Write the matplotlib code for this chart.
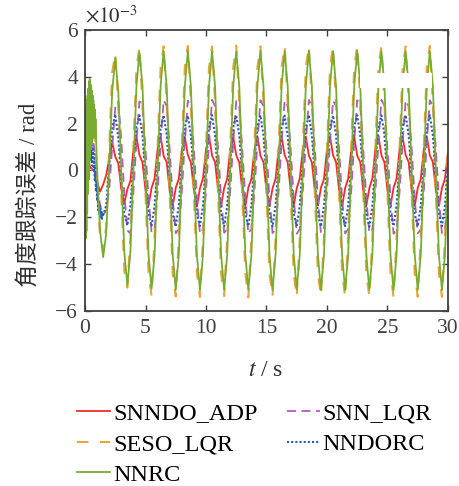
import numpy as np
import matplotlib
matplotlib.use('Agg')
import matplotlib.pyplot as plt
from matplotlib.patches import Rectangle

plt.rcParams['font.family'] = ['Liberation Serif', 'Noto Sans CJK SC']
plt.rcParams['mathtext.fontset'] = 'stix'

# sample grid (s), errors in units of 1e-3 rad
t = np.arange(0, 30.001, 0.25)

snndo_adp = [
    0.00, 0.30, 0.10, 0.00, -0.50, -0.90, -0.60, -0.20,
    0.50, 1.20, 0.60, 0.30, -0.80, -1.40, -0.80, -0.45,
    0.90, 1.45, 0.65, 0.35, -0.85, -1.50, -0.75, -0.35,
    0.92, 1.46, 0.62, 0.36, -0.88, -1.52, -0.74, -0.36,
    0.88, 1.44, 0.66, 0.34, -0.84, -1.55, -0.76, -0.34,
    0.90, 1.47, 0.64, 0.35, -0.86, -1.50, -0.75, -0.35,
    0.91, 1.45, 0.65, 0.33, -0.85, -1.53, -0.73, -0.36,
    0.89, 1.46, 0.63, 0.36, -0.87, -1.51, -0.76, -0.35,
    0.90, 1.44, 0.66, 0.35, -0.84, -1.52, -0.75, -0.34,
    0.92, 1.45, 0.64, 0.34, -0.86, -1.50, -0.74, -0.36,
    0.90, 1.46, 0.65, 0.36, -0.85, -1.54, -0.75, -0.35,
    0.89, 1.45, 0.63, 0.35, -0.87, -1.51, -0.76, -0.34,
    0.91, 1.47, 0.65, 0.34, -0.85, -1.50, -0.74, -0.35,
    0.90, 1.44, 0.66, 0.35, -0.86, -1.52, -0.75, -0.36,
    0.90, 1.46, 0.64, 0.36, -0.84, -1.51, -0.75, -0.35,
    0.80,
]

snn_lqr = [
    0.00, 1.50, 1.80, 1.00, -0.50, -1.50, -1.90, -1.70,
    -0.80, 1.00, 2.70, 2.95, 1.30, -1.00, -2.55, -2.70,
    -0.90, 1.20, 2.95, 2.75, 0.90, -1.20, -2.65, -2.50,
    -0.92, 1.18, 3.00, 2.76, 0.88, -1.22, -2.68, -2.52,
    -0.90, 1.20, 2.98, 2.74, 0.90, -1.20, -2.70, -2.50,
    -0.88, 1.22, 3.02, 2.75, 0.92, -1.18, -2.66, -2.51,
    -0.90, 1.20, 2.97, 2.76, 0.90, -1.20, -2.69, -2.50,
    -0.91, 1.19, 3.00, 2.74, 0.89, -1.21, -2.67, -2.52,
    -0.90, 1.21, 2.99, 2.75, 0.90, -1.19, -2.70, -2.50,
    -0.89, 1.20, 3.01, 2.76, 0.91, -1.20, -2.68, -2.51,
    -0.90, 1.20, 2.98, 2.75, 0.90, -1.21, -2.69, -2.50,
    -0.91, 1.21, 3.00, 2.74, 0.89, -1.20, -2.67, -2.52,
    -0.90, 1.19, 3.02, 2.76, 0.90, -1.19, -2.70, -2.50,
    -0.89, 1.20, 2.99, 2.75, 0.91, -1.20, -2.68, -2.51,
    -0.90, 1.21, 3.00, 2.75, 0.90, -1.21, -2.69, -2.50,
    -0.90,
]

seso_lqr = [
    0.00, 2.20, 3.30, 1.80, -0.60, -2.90, -3.40, -2.40,
    1.00, 4.20, 5.00, 2.80, -1.00, -4.30, -5.00, -2.90,
    1.00, 4.40, 5.28, 2.90, -1.00, -4.40, -5.35, -2.90,
    1.02, 4.40, 5.30, 2.92, -1.02, -4.42, -5.38, -2.90,
    1.00, 4.42, 5.32, 2.90, -1.00, -4.40, -5.40, -2.92,
    0.98, 4.40, 5.30, 2.91, -1.01, -4.41, -5.36, -2.90,
    1.00, 4.41, 5.33, 2.90, -1.00, -4.40, -5.42, -2.91,
    1.01, 4.40, 5.30, 2.92, -0.99, -4.42, -5.38, -2.90,
    1.00, 4.42, 5.31, 2.90, -1.00, -4.40, -5.40, -2.90,
    0.99, 4.40, 5.32, 2.91, -1.02, -4.41, -5.37, -2.92,
    1.00, 4.41, 5.30, 2.90, -1.00, -4.40, -5.41, -2.90,
    1.02, 4.40, 5.33, 2.92, -1.01, -4.42, -5.38, -2.91,
    1.00, 4.42, 5.31, 2.90, -1.00, -4.40, -5.40, -2.90,
    0.98, 4.40, 5.30, 2.91, -0.99, -4.41, -5.39, -2.92,
    1.00, 4.41, 5.32, 2.90, -1.00, -4.40, -5.40, -2.90,
    1.00,
]

nndorc = [
    0.00, 1.50, 1.00, 0.50, -0.90, -1.70, -2.00, -1.50,
    0.20, 1.80, 2.40, 1.40, -0.40, -1.90, -2.35, -1.50,
    0.30, 1.85, 2.35, 1.50, -0.30, -1.85, -2.38, -1.50,
    0.31, 1.84, 2.36, 1.52, -0.30, -1.86, -2.40, -1.49,
    0.30, 1.86, 2.34, 1.50, -0.31, -1.85, -2.37, -1.50,
    0.29, 1.85, 2.37, 1.49, -0.30, -1.84, -2.39, -1.51,
    0.30, 1.84, 2.35, 1.51, -0.29, -1.86, -2.38, -1.50,
    0.31, 1.86, 2.36, 1.50, -0.30, -1.85, -2.40, -1.49,
    0.30, 1.85, 2.34, 1.50, -0.31, -1.84, -2.37, -1.50,
    0.30, 1.84, 2.37, 1.52, -0.30, -1.86, -2.39, -1.51,
    0.29, 1.86, 2.35, 1.50, -0.30, -1.85, -2.38, -1.50,
    0.31, 1.85, 2.36, 1.49, -0.29, -1.84, -2.40, -1.50,
    0.30, 1.84, 2.35, 1.51, -0.31, -1.86, -2.37, -1.49,
    0.30, 1.86, 2.37, 1.50, -0.30, -1.85, -2.39, -1.50,
    0.29, 1.85, 2.36, 1.50, -0.30, -1.84, -2.38, -1.51,
    0.30,
]

nnrc = [
    0.00, 2.50, 3.50, 2.00, 0.00, -2.60, -3.70, -2.70,
    0.10, 3.40, 4.80, 3.40, 0.00, -3.50, -4.90, -3.50,
    0.00, 3.60, 5.05, 3.60, 0.00, -3.60, -5.05, -3.60,
    0.00, 3.62, 5.10, 3.60, 0.00, -3.60, -5.10, -3.62,
    0.02, 3.60, 5.12, 3.60, -0.02, -3.62, -5.12, -3.60,
    0.00, 3.61, 5.10, 3.58, 0.00, -3.60, -5.10, -3.61,
    0.00, 3.60, 5.08, 3.60, 0.01, -3.60, -5.10, -3.60,
    0.00, 3.62, 5.12, 3.60, 0.00, -3.62, -5.12, -3.60,
    0.01, 3.60, 5.10, 3.61, 0.00, -3.60, -5.08, -3.60,
    0.00, 3.60, 5.11, 3.60, -0.01, -3.61, -5.10, -3.60,
    0.00, 3.61, 5.10, 3.60, 0.00, -3.60, -5.11, -3.61,
    0.00, 3.60, 5.12, 3.62, 0.00, -3.60, -5.10, -3.60,
    0.01, 3.60, 5.10, 3.60, 0.00, -3.62, -5.12, -3.60,
    0.00, 3.62, 5.10, 3.60, 0.00, -3.60, -5.10, -3.61,
    0.00, 3.60, 5.11, 3.60, 0.01, -3.60, -5.11, -3.60,
    0.00,
]

# start-up transients, sampled finer
t_nnrc0 = np.arange(0, 0.901, 0.03)
nnrc0 = [
    0.0, 2.3, -2.9, 2.7, -2.6, 3.0, -1.8, 3.2, -1.0, 3.5, -0.4,
    3.8, 0.2, 3.9, 0.6, 3.7, 0.9, 3.6, 1.1, 3.4, 1.3,
    3.2, 1.4, 3.0, 1.5, 2.8, 1.5, 2.6, 1.4, 2.2, 1.6,
]
t_nndorc0 = np.arange(0, 1.501, 0.05)
nndorc0 = [
    0.0, 0.9, -0.8, 1.7, 0.3, 2.5, 1.0, 2.4, 0.6, 1.8, 0.4,
    1.3, 0.2, 1.0, 0.0, 0.7, -0.4, 0.1, -0.9, -0.5, -1.3,
    -0.9, -1.7, -1.3, -1.9, -1.5, -2.0, -1.7, -2.1, -1.8, -1.9,
]

def join(t0, y0, y):
    keep = t > t0[-1] + 1e-9
    return (np.concatenate([t0, t[keep]]),
            np.concatenate([y0, np.asarray(y)[keep]]))

fig = plt.figure(figsize=(4.59, 4.86), dpi=100)
ax = fig.add_axes([0.1852, 0.3601, 0.7908, 0.5782])

h1, = ax.plot(t, snndo_adp, color='#F42A2A', lw=1.3)
h2, = ax.plot(t, snn_lqr, color='#B25BBE', lw=1.3, dashes=(5.0, 3.0))
h3, = ax.plot(t, seso_lqr, color='#EBA43A', lw=1.5, dashes=(5.5, 5.5))
xb, yb = join(t_nndorc0, nndorc0, nndorc)
h4, = ax.plot(xb, yb, color='#2A5CB8', lw=1.5, dashes=(1.0, 1.0))
xg, yg = join(t_nnrc0, nnrc0, nnrc)
h5, = ax.plot(xg, yg, color='#77AC30', lw=1.3)

ax.add_patch(Rectangle((0.758, 0.7925), 0.198, 0.056, transform=ax.transAxes,
                       facecolor='white', edgecolor='none', zorder=5))

ax.set_xlim(0, 30)
ax.set_ylim(-6, 6)
ax.set_xticks(np.arange(0, 31, 5))
ax.set_yticks(np.arange(-6, 7, 2))
ax.tick_params(direction='in', length=4, width=1.0, top=True, right=True,
               colors='#404040', labelsize=15.5)
ax.tick_params(axis='x', pad=6)
ax.tick_params(axis='y', pad=5)
for s in ax.spines.values():
    s.set_color('#404040')
    s.set_linewidth(1.3)

ax.text(0.0, 1.008, r'$\times10^{-3}$', transform=ax.transAxes,
        ha='left', va='bottom', fontsize=15, color='#303030')

ax.set_ylabel('角度跟踪误差 / rad', fontsize=16.5, color='#303030')
ax.yaxis.set_label_coords(-0.125, 0.415)
ax.set_xlabel(r'$t$ / s', fontsize=17, color='#303030')
ax.xaxis.set_label_coords(0.497, -0.175)

fig.legend([h1, h3, h5, h2, h4], ['SNNDO_ADP', 'SESO_LQR', 'NNRC', 'SNN_LQR', 'NNDORC'],
           ncol=2, loc='upper left', bbox_to_anchor=(0.168, 0.172),
           frameon=False, fontsize=17.5, handlelength=1.36, handletextpad=0.12,
           columnspacing=1.2, labelspacing=0.36, borderpad=0, borderaxespad=0)

fig.savefig('out.png', dpi=100)
